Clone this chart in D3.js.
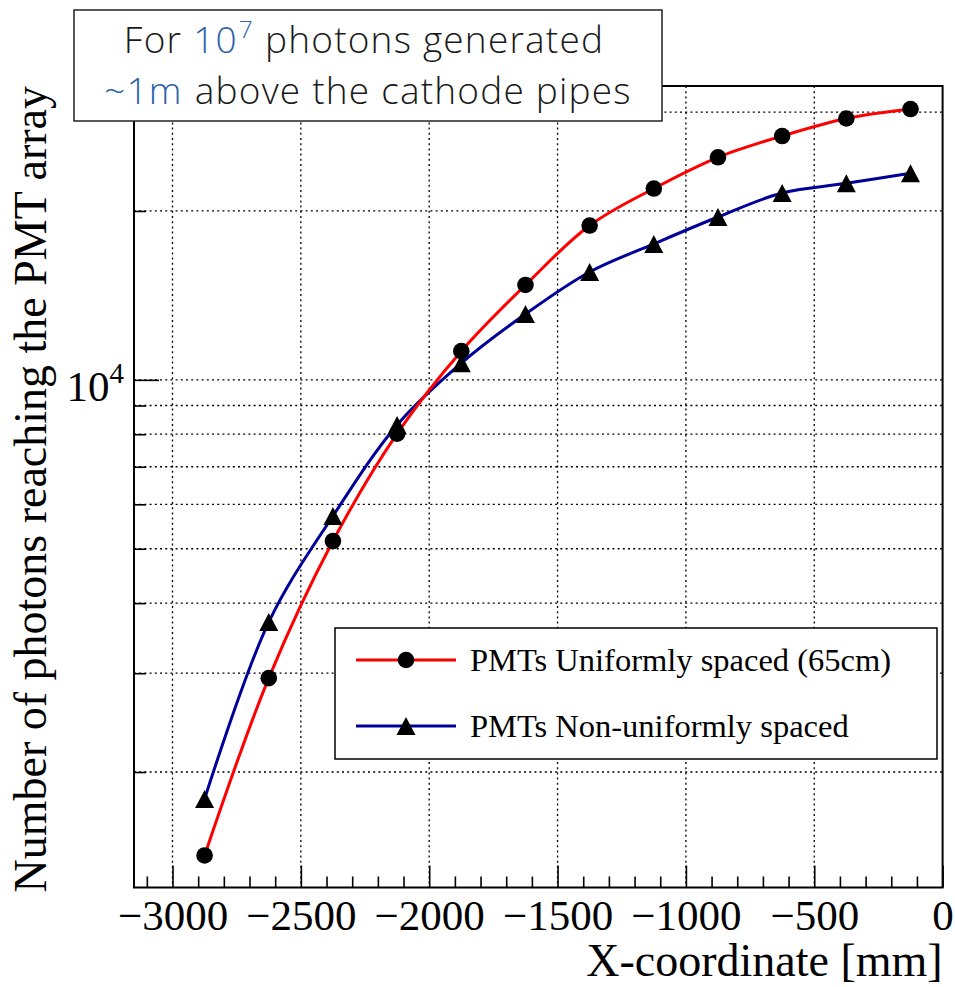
<!DOCTYPE html>
<html>
<head>
<meta charset="utf-8">
<script src="https://cdn.jsdelivr.net/npm/d3@7"></script>
<style>
  html, body { margin: 0; padding: 0; background: #fff; }
  svg { display: block; }
</style>
</head>
<body>
<svg id="chart" width="955" height="987"></svg>
<script>
// Source positions along X (mm)
const xPositions = [-2875, -2625, -2375, -2125, -1875, -1625, -1375, -1125, -875, -625, -375, -125];
// Photons reaching the PMT array, uniform 65 cm spacing
const uniformCounts = [1420, 2940, 5160, 8020, 11250, 14760, 18840, 21930, 24930, 27200, 29230, 30390];
// Photons reaching the PMT array, non-uniform spacing
const nonUniformCounts = [1790, 3700, 5720, 8310, 10710, 13100, 15570, 17470, 19510, 21530, 22400, 23340];

const seriesNames = ["PMTs Uniformly spaced (65cm)", "PMTs Non-uniformly spaced"];
const xMajorTicks = [-3000, -2500, -2000, -1500, -1000, -500, 0];
const xTickLabels = ["\u22123000", "\u22122500", "\u22122000", "\u22121500", "\u22121000", "\u2212500", "0"];
const xMinorTicks = d3.range(-3100, 0, 100).filter(v => v % 500 !== 0);
const yMinorTicks = [2000, 3000, 4000, 5000, 6000, 7000, 8000, 9000, 20000, 30000];
const yMajorTicks = [10000];

const serif = "Liberation Serif, Times New Roman, serif";
const frame = { left: 134, right: 942.6, top: 86, bottom: 887.5 };

const svg = d3.select("#chart");

const x = d3.scaleLinear().domain([-3150, 0]).range([frame.left, frame.right]);
const y = d3.scaleLog().domain([1245, 33400]).range([frame.bottom, frame.top]);

// dotted grid
const grid = svg.append("g").attr("stroke", "#000").attr("stroke-width", 1.3)
  .attr("stroke-dasharray", "2,3.2");
grid.selectAll("line.gx").data(xMajorTicks.filter(v => v < 0)).join("line")
  .attr("x1", d => x(d)).attr("x2", d => x(d))
  .attr("y1", frame.top).attr("y2", frame.bottom);
grid.selectAll("line.gy").data(yMinorTicks.concat(yMajorTicks)).join("line")
  .attr("y1", d => y(d)).attr("y2", d => y(d))
  .attr("x1", frame.left).attr("x2", frame.right);

// x axis ticks (pointing into the frame)
const xAxisMajor = d3.axisBottom(x).tickValues(xMajorTicks).tickSize(-22).tickPadding(12)
  .tickFormat((d, i) => xTickLabels[i]);
const gxMaj = svg.append("g").attr("transform", `translate(0,${frame.bottom})`).call(xAxisMajor);
gxMaj.select(".domain").remove();
gxMaj.selectAll("line").attr("stroke", "#000").attr("stroke-width", 1.6);
gxMaj.selectAll("text").attr("font-size", 43).attr("fill", "#000")
  .attr("font-family", serif).attr("dy", null).attr("y", 42);

const xAxisMinor = d3.axisBottom(x).tickValues(xMinorTicks).tickSize(-11).tickFormat("");
const gxMin = svg.append("g").attr("transform", `translate(0,${frame.bottom})`).call(xAxisMinor);
gxMin.select(".domain").remove();
gxMin.selectAll("line").attr("stroke", "#000").attr("stroke-width", 1.6);

// y axis ticks (pointing into the frame)
const gyMin = svg.append("g").attr("transform", `translate(${frame.left},0)`)
  .call(d3.axisLeft(y).tickValues(yMinorTicks).tickSize(-12).tickFormat(""));
gyMin.select(".domain").remove();
gyMin.selectAll("line").attr("stroke", "#000").attr("stroke-width", 1.6);
const gyMaj = svg.append("g").attr("transform", `translate(${frame.left},0)`)
  .call(d3.axisLeft(y).tickValues(yMajorTicks).tickSize(-25).tickFormat(""));
gyMaj.select(".domain").remove();
gyMaj.selectAll("line").attr("stroke", "#000").attr("stroke-width", 1.6);

// 10^4 label
const yLab = svg.append("text").attr("font-family", serif)
  .attr("text-anchor", "end").attr("x", frame.left - 10).attr("y", y(1e4) + 21)
  .attr("font-size", 43).attr("fill", "#000");
yLab.append("tspan").text("10");
yLab.append("tspan").attr("font-size", 29).attr("dy", -18).text("4");

// frame
svg.append("rect").attr("x", frame.left).attr("y", frame.top)
  .attr("width", frame.right - frame.left).attr("height", frame.bottom - frame.top)
  .attr("fill", "none").attr("stroke", "#000").attr("stroke-width", 2);

// series curves
const line = d3.line().x(d => x(d[0])).y(d => y(d[1])).curve(d3.curveCatmullRom.alpha(0.5));
const uniformPts = xPositions.map((v, i) => [v, uniformCounts[i]]);
const nonUniformPts = xPositions.map((v, i) => [v, nonUniformCounts[i]]);

svg.append("path").datum(nonUniformPts).attr("d", line)
  .attr("fill", "none").attr("stroke", "#000099").attr("stroke-width", 3);
svg.append("path").datum(uniformPts).attr("d", line)
  .attr("fill", "none").attr("stroke", "#ff0000").attr("stroke-width", 3);

const triPath = (w, h) => `M0,${-h / 2}L${w / 2},${h / 2}L${-w / 2},${h / 2}Z`;

svg.append("g").selectAll("path").data(nonUniformPts).join("path")
  .attr("d", triPath(19, 18))
  .attr("transform", d => `translate(${x(d[0])},${y(d[1])})`)
  .attr("fill", "#000");
svg.append("g").selectAll("circle").data(uniformPts).join("circle")
  .attr("cx", d => x(d[0])).attr("cy", d => y(d[1])).attr("r", 8.3).attr("fill", "#000");

// axis titles
svg.append("text").attr("font-family", serif)
  .attr("font-size", 46).attr("text-anchor", "end")
  .attr("x", frame.right).attr("y", 976).text("X-coordinate [mm]");
svg.append("text").attr("font-family", serif)
  .attr("font-size", 46).attr("text-anchor", "end")
  .attr("transform", `translate(46,${frame.top}) rotate(-90)`)
  .text("Number of photons reaching the PMT array");

// legend
const legend = svg.append("g");
legend.append("rect").attr("x", 335).attr("y", 628).attr("width", 602).attr("height", 131)
  .attr("fill", "#fff").attr("stroke", "#000").attr("stroke-width", 1.5);
const rows = [
  { name: seriesNames[0], color: "#ff0000", marker: "circle", yy: 660 },
  { name: seriesNames[1], color: "#000099", marker: "triangle", yy: 726 }
];
rows.forEach(r => {
  legend.append("line").attr("x1", 356).attr("x2", 456).attr("y1", r.yy).attr("y2", r.yy)
    .attr("stroke", r.color).attr("stroke-width", 3);
  if (r.marker === "circle") {
    legend.append("circle").attr("cx", 406).attr("cy", r.yy).attr("r", 8.3).attr("fill", "#000");
  } else {
    legend.append("path").attr("d", triPath(19, 18)).attr("transform", `translate(406,${r.yy})`)
      .attr("fill", "#000");
  }
  legend.append("text").attr("font-family", serif)
    .attr("font-size", 32.5).attr("x", 470).attr("y", r.yy + 11).text(r.name);
});

// annotation box: a two-line text block, each line a centred run of pieces
const note = svg.append("g");
note.append("rect").attr("x", 74).attr("y", 10).attr("width", 588).attr("height", 111)
  .attr("fill", "#fff").attr("stroke", "#222").attr("stroke-width", 1.5);
const noteFont = "Open Sans, Noto Sans, DejaVu Sans, sans-serif";
const blue = "#2b63aa";
const ink = "#1a1a1a";
const noteLines = [
  { cx: 364, base: 53, pieces: [
    { t: "For", c: ink, s: 37, gap: 11 },
    { t: "10", c: blue, s: 37, gap: 1 },
    { t: "7", c: blue, s: 24.5, rise: 15, gap: 11 },
    { t: "photons generated", c: ink, s: 37, gap: 0 }
  ]},
  { cx: 368, base: 104, pieces: [
    { t: "~1m", c: blue, s: 37, gap: 12 },
    { t: "above the cathode pipes", c: ink, s: 37, gap: 0 }
  ]}
];
noteLines.forEach(ln => {
  const nodes = ln.pieces.map(p => note.append("text")
    .attr("font-family", noteFont).attr("font-weight", 300)
    .attr("letter-spacing", 1.2)
    .attr("font-size", p.s).attr("fill", p.c)
    .attr("y", ln.base - (p.rise || 0)).text(p.t));
  const widths = nodes.map(n => n.node().getComputedTextLength());
  const total = d3.sum(widths) + d3.sum(ln.pieces.slice(0, -1), p => p.gap);
  let cursor = ln.cx - total / 2;
  nodes.forEach((n, i) => {
    n.attr("x", cursor);
    cursor += widths[i] + ln.pieces[i].gap;
  });
});
</script>
</body>
</html>
